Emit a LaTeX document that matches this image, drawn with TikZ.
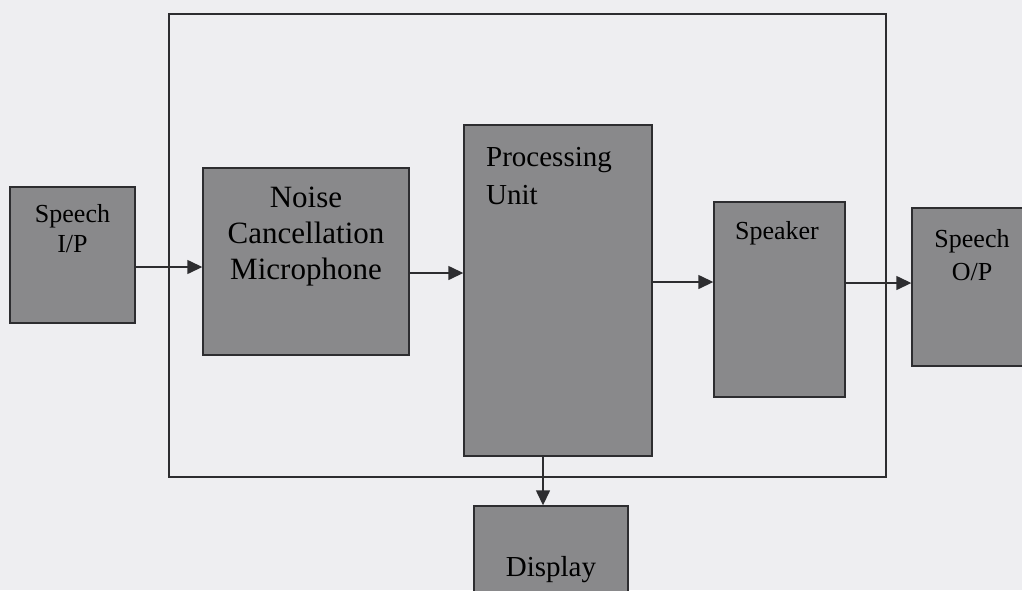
\documentclass[tikz,border=0pt]{standalone}
\usepackage{fontspec}
\setmainfont{Liberation Serif}
\usetikzlibrary{arrows.meta}
\definecolor{paper}{RGB}{238,238,241}
\definecolor{boxfill}{RGB}{137,137,139}
\definecolor{ink}{RGB}{45,45,48}
\tikzset{
  blk/.style={draw=ink, line width=1.4pt, fill=boxfill, inner sep=0pt, rectangle},
  frameline/.style={draw=ink, line width=1.3pt, rectangle, inner sep=0pt},
  txt/.style={text=black, inner sep=0pt},
  flow/.style={draw=ink, line width=1.4pt, -{Triangle[length=15pt,width=14pt]}}
}
\begin{document}
\begin{tikzpicture}[x=1pt,y=-1pt]
\fill[paper] (0,0) rectangle (1022,590);
\useasboundingbox (0,0) rectangle (1022,590);
% outer frame
\node[frameline, minimum width=717pt, minimum height=463pt] (frame) at (527.5,245.5) {};
% boxes
\node[blk, minimum width=125pt, minimum height=136pt] (spin) at (72.5,255) {};
\node[blk, minimum width=206pt, minimum height=187pt] (noise) at (306,261.5) {};
\node[blk, minimum width=188pt, minimum height=331pt] (proc) at (558,290.5) {};
\node[blk, minimum width=131pt, minimum height=195pt] (spk) at (779.5,299.5) {};
\node[blk, minimum width=120pt, minimum height=158pt] (spout) at (972,287) {};
\node[blk, minimum width=154pt, minimum height=120pt] (disp) at (551,566) {};
% texts
\node[txt, anchor=north, align=center, font=\fontsize{26}{30}\selectfont] (tspin) at (72.5,204) {Speech\\I/P};
\node[txt, anchor=north, align=center, font=\fontsize{31}{36}\selectfont] (tnoise) at (306,186.5) {Noise\\Cancellation\\Microphone};
\node[txt, anchor=north west, align=left, font=\fontsize{29}{38}\selectfont] (tproc) at (486,147) {Processing\\Unit};
\node[txt, anchor=base, font=\fontsize{26}{30}\selectfont] (tspk) at (777,239) {Speaker};
\node[txt, anchor=north, align=center, font=\fontsize{26}{33}\selectfont] (tspout) at (972,229) {Speech\\O/P};
\node[txt, anchor=base, font=\fontsize{29}{34}\selectfont] (tdisp) at (551,576) {Display};
% connectors
\draw[flow] (spin.east |- 0,267) -- (noise.west |- 0,267);
\draw[flow] (noise.east |- 0,273) -- (proc.west |- 0,273);
\draw[flow] (proc.east |- 0,282) -- (spk.west |- 0,282);
\draw[flow] (spk.east |- 0,283) -- (spout.west |- 0,283);
\draw[flow] (proc.south -| 543,0) -- (disp.north -| 543,0);
\end{tikzpicture}
\end{document}
